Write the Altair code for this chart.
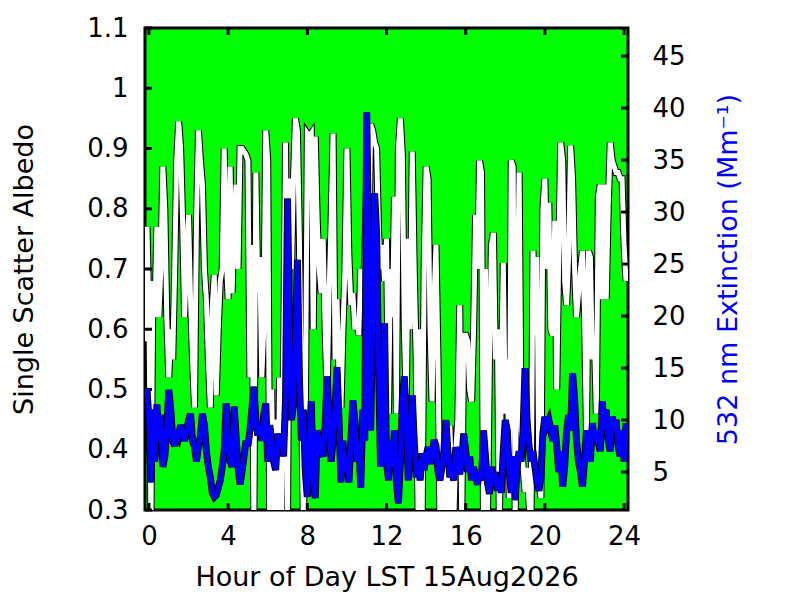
import altair as alt
import pandas as pd

# Single scatter albedo, one value every 0.1 h starting at -0.2 h
ssa = [
    0.58, 0.77,
    0.62, 0.28, 0.68, 0.62, 0.77, 0.62, 0.70, 0.87, 0.80, 0.62,
    0.52, 0.60, 0.55, 0.70, 0.88, 0.945, 0.90, 0.78, 0.62, 0.72,
    0.79, 0.65, 0.55, 0.47, 0.78, 0.93, 0.88, 0.84, 0.70, 0.65,
    0.55, 0.47, 0.64, 0.69, 0.49, 0.60, 0.68, 0.70, 0.90, 0.72,
    0.65, 0.87, 0.66, 0.78, 0.84, 0.70, 0.90, 0.90, 0.895, 0.89,
    0.88, 0.52, 0.74, 0.28, 0.86, 0.66, 0.72, 0.52, 0.60, 0.93,
    0.88, 0.28, 0.50, 0.28, 0.45, 0.28, 0.52, 0.28, 0.55, 0.91,
    0.28, 0.85, 0.70, 0.85, 0.95, 0.93, 0.75, 0.50, 0.28, 0.45,
    0.925, 0.92, 0.925, 0.60, 0.92, 0.78, 0.70, 0.66, 0.75, 0.60,
    0.49, 0.66, 0.78, 0.925, 0.55, 0.65, 0.52, 0.47, 0.60, 0.70,
    0.90, 0.72, 0.64, 0.66, 0.60, 0.62, 0.59, 0.70, 0.65, 0.72,
    0.85, 0.72, 0.94, 0.93, 0.91, 0.90, 0.76, 0.70, 0.74, 0.68,
    0.75, 0.46, 0.70, 0.62, 0.82, 0.46, 0.90, 0.95, 0.89, 0.60,
    0.48, 0.75, 0.60, 0.895, 0.70, 0.55, 0.28, 0.60, 0.28, 0.70,
    0.87, 0.85, 0.60, 0.48, 0.65, 0.74, 0.55, 0.28, 0.40, 0.28,
    0.38, 0.28, 0.44, 0.34, 0.28, 0.40, 0.45, 0.64, 0.28, 0.59,
    0.59, 0.58, 0.50, 0.48, 0.60, 0.79, 0.70, 0.88, 0.86, 0.28,
    0.70, 0.28, 0.55, 0.74, 0.76, 0.55, 0.60, 0.28, 0.50, 0.71,
    0.46, 0.55, 0.32, 0.88, 0.87, 0.28, 0.60, 0.86, 0.44, 0.37,
    0.33, 0.37, 0.31, 0.28, 0.73, 0.59, 0.72, 0.35, 0.32, 0.80,
    0.85, 0.70, 0.81, 0.60, 0.59, 0.78, 0.50, 0.72, 0.91, 0.88,
    0.68, 0.64, 0.72, 0.905, 0.85, 0.70, 0.62, 0.66, 0.70, 0.73,
    0.63, 0.43, 0.73, 0.72, 0.55, 0.59, 0.46, 0.82, 0.84, 0.65,
    0.84, 0.65, 0.80, 0.91, 0.88, 0.87, 0.86, 0.86, 0.85, 0.85,
    0.74, 0.68,
]

# 532 nm extinction (Mm-1), same time grid
ext = [
    11.5, 13.0,
    10.0, 4.0, 11.0, 6.0, 11.5, 8.0, 10.5, 5.5, 6.5, 9.0,
    12.9, 11.0, 8.0, 7.5, 9.0, 8.5, 9.5, 8.8, 8.0, 9.0,
    10.0, 10.6, 8.0, 7.4, 6.0, 7.5, 8.5, 10.6, 9.5, 7.0,
    5.5, 4.5, 3.0, 2.6, 2.8, 3.5, 4.2, 5.5, 7.0, 11.6,
    8.0, 6.0, 5.5, 11.3, 8.5, 5.5, 3.8, 5.0, 6.5, 8.0,
    7.5, 9.0, 11.0, 13.2, 10.0, 8.5, 9.5, 8.0, 10.5, 11.6,
    6.0, 9.5, 8.0, 6.0, 5.2, 8.7, 7.5, 8.5, 6.5, 12.0,
    31.3, 18.0, 10.0, 11.5, 18.0, 25.4, 14.0, 8.0, 11.0, 5.0,
    2.6, 8.0, 11.8, 3.9, 2.5, 9.0, 8.0, 7.0, 6.5, 9.5,
    14.2, 10.0, 6.0, 8.0, 11.0, 15.1, 10.0, 4.0, 8.0, 5.0,
    6.5, 4.0, 8.0, 11.9, 10.0, 6.0, 8.0, 3.5, 11.0, 8.0,
    39.6, 26.0, 9.0, 20.0, 31.8, 28.0, 15.0, 5.5, 8.0, 19.3,
    6.0, 4.2, 8.0, 5.5, 9.0, 4.0, 2.0, 6.0, 12.0, 14.2,
    10.0, 4.2, 8.0, 12.4, 8.0, 4.5, 6.0, 4.2, 6.8, 5.2,
    6.5, 7.4, 5.8, 6.5, 8.1, 7.5, 5.0, 4.2, 5.5, 7.0,
    10.0, 7.0, 4.5, 5.0, 4.2, 7.4, 6.0, 4.8, 6.0, 8.7,
    7.0, 5.0, 6.5, 4.2, 5.5, 4.5, 3.8, 5.0, 4.2, 9.0,
    6.5, 4.0, 2.9, 5.5, 4.0, 5.0, 3.2, 4.5, 3.0, 7.0,
    10.0, 9.0, 5.0, 3.0, 6.5, 2.3, 5.5, 7.0, 6.0, 9.0,
    15.0, 10.0, 7.5, 6.0, 7.0, 5.5, 4.0, 3.2, 4.5, 8.7,
    10.3, 9.5, 10.0, 9.0, 8.0, 9.5, 7.5, 5.0, 7.0, 3.6,
    5.5, 9.0, 10.5, 9.0, 14.5, 12.0, 8.0, 6.0, 5.0, 3.6,
    6.0, 9.0, 7.0, 6.0, 9.7, 8.0, 9.0, 7.8, 7.0, 11.8,
    9.0, 11.0, 8.0, 7.0, 10.3, 9.5, 10.0, 7.5, 6.5, 9.0,
    6.0, 9.7,
]

x_ticks = [0, 4, 8, 12, 16, 20, 24]
left_ticks = [0.3, 0.4, 0.5, 0.6, 0.7, 0.8, 0.9, 1.0, 1.1]
right_ticks = [5, 10, 15, 20, 25, 30, 35, 40, 45]

n = min(len(ssa), len(ext))
hours = [round(-0.2 + 0.1 * i, 1) for i in range(n)]
df = pd.DataFrame({"hour": hours, "ssa": ssa[:n], "ext": ext[:n]})
xt = pd.DataFrame({"hour": x_ticks})
lt = pd.DataFrame({"ssa": left_ticks})
rt = pd.DataFrame({"ext": right_ticks})

W, H = 483, 482
TL = 7
FONT = "DejaVu Sans"
LBL = 26
TTL = 27

xscale = alt.Scale(domain=[-0.2, 24.2], nice=False, zero=False)
lscale = alt.Scale(domain=[0.3, 1.1], nice=False, zero=False)
rscale = alt.Scale(domain=[1.35, 47.7], nice=False, zero=False)

x_axis = alt.Axis(values=x_ticks, ticks=False, domain=False, grid=False,
                  labelFontSize=LBL, labelPadding=13, labelColor="black",
                  title="Hour of Day LST 15Aug2026", titleFontSize=TTL,
                  titleFontWeight="normal", titlePadding=15, titleColor="black")
l_axis = alt.Axis(values=left_ticks, ticks=False, domain=False, grid=False,
                  labelFontSize=LBL, labelPadding=17, labelColor="black",
                  labelExpr="format(datum.value, '~g')",
                  title="Single Scatter Albedo", titleFontSize=TTL,
                  titleFontWeight="normal", titlePadding=48, titleColor="black")
r_axis = alt.Axis(orient="right", values=right_ticks, ticks=False, domain=False,
                  grid=False, labelFontSize=LBL, labelPadding=24, labelColor="black",
                  title="532 nm Extinction (Mm⁻¹)", titleFontSize=TTL,
                  titleFontWeight="normal", titleColor="#0000ff", titleAngle=270,
                  titleBaseline="top", titlePadding=30)

X = alt.X("hour:Q", scale=xscale, axis=x_axis)
YL = alt.Y("ssa:Q", scale=lscale, axis=l_axis)
YR = alt.Y("ext:Q", scale=rscale, axis=r_axis)

base = alt.Chart(df)

white_edge = base.mark_line(color="black", strokeWidth=7, clip=True).encode(x=X, y=YL)
white_line = base.mark_line(color="white", strokeWidth=5, clip=True).encode(x=X, y=YL)
xtick_bottom = alt.Chart(xt).mark_rule(color="black", strokeWidth=3).encode(
    x=X, y=alt.value(H - TL), y2=alt.value(H))
xtick_top = alt.Chart(xt).mark_rule(color="black", strokeWidth=3).encode(
    x=X, y=alt.value(0), y2=alt.value(TL))
ltick = alt.Chart(lt).mark_rule(color="black", strokeWidth=3).encode(
    y=YL, x=alt.value(0), x2=alt.value(TL))
left_group = alt.layer(white_edge, white_line, xtick_bottom, xtick_top, ltick)

blue_edge = base.mark_line(color="black", strokeWidth=7, clip=True).encode(x=X, y=YR)
blue_line = base.mark_line(color="#0000ff", strokeWidth=5, clip=True).encode(x=X, y=YR)
rtick = alt.Chart(rt).mark_rule(color="black", strokeWidth=3).encode(
    y=YR, x=alt.value(W - TL), x2=alt.value(W))
right_group = alt.layer(blue_edge, blue_line, rtick)

chart = (
    alt.layer(left_group, right_group)
    .resolve_scale(y="independent")
    .properties(width=W, height=H,
                autosize=alt.AutoSizeParams(type="none"),
                padding={"left": 137, "top": 20, "right": 150, "bottom": 82},
                background="white")
    .configure(font=FONT)
    .configure_view(fill="#00ff00", stroke="black", strokeWidth=3)
)

chart.save("out.html", embed_options={"renderer": "svg", "actions": False})
